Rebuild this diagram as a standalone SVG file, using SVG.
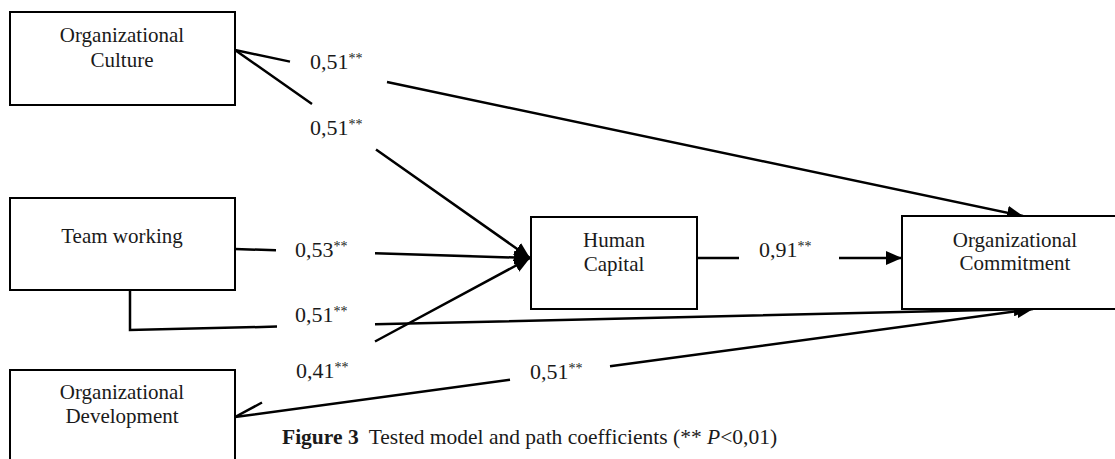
<svg xmlns="http://www.w3.org/2000/svg" width="1115" height="459" viewBox="0 0 1115 459">
<style>
.box{fill:#fff;stroke:#000;stroke-width:2}
.t{font-family:"Liberation Serif","Times New Roman",serif;font-size:21px;fill:#1a1a1a;text-anchor:middle}
.lbl{font-family:"Liberation Serif","Times New Roman",serif;font-size:22px;fill:#1a1a1a}
.sup{font-size:14px}
.c{fill:none;stroke:#000;stroke-width:2.5;marker-end:url(#ah)}
.cap{font-family:"Liberation Serif","Times New Roman",serif;font-size:21.5px;fill:#1a1a1a}
</style>
<defs>
<marker id="ah" viewBox="0 0 16 14" refX="16" refY="7" markerWidth="16" markerHeight="14" markerUnits="userSpaceOnUse" orient="auto">
<path d="M0,0 L16,7 L0,14 z" fill="#000"/>
</marker>
</defs>
<rect width="1115" height="459" fill="#fff"/>
<g id="connectors">
<path class="c" d="M235,50 L290,61.6 M387,82 L1023,216"/>
<path class="c" d="M235,50 L312,104 M376,149.4 L530,258"/>
<path class="c" d="M235,249 L276,250.3 M375,253.3 L530,258"/>
<path class="c" d="M235,417 L262,402.5 M375,341.5 L530,258"/>
<path class="c" d="M130,290 L130,330 L277,326.6 M375,324.3 L1030,309"/>
<path class="c" d="M235,417 L510,379.8 M610,366.3 L1033,309"/>
<path class="c" d="M697,258 L739,258 M839,258 L902,258"/>
</g>
<g id="labels">
<text class="lbl" x="310" y="69">0,51<tspan class="sup" dy="-6">**</tspan></text>
<text class="lbl" x="310" y="135">0,51<tspan class="sup" dy="-6">**</tspan></text>
<text class="lbl" x="295" y="257">0,53<tspan class="sup" dy="-6">**</tspan></text>
<text class="lbl" x="295" y="322">0,51<tspan class="sup" dy="-6">**</tspan></text>
<text class="lbl" x="296" y="378">0,41<tspan class="sup" dy="-6">**</tspan></text>
<text class="lbl" x="530" y="379">0,51<tspan class="sup" dy="-6">**</tspan></text>
<text class="lbl" x="759" y="257">0,91<tspan class="sup" dy="-6">**</tspan></text>
</g>
<g id="node-culture">
<rect class="box" x="10" y="12" width="225" height="93"/>
<text class="t" x="122" y="42">Organizational</text>
<text class="t" x="122" y="67">Culture</text>
</g>
<g id="node-team">
<rect class="box" x="10" y="198" width="225" height="92"/>
<text class="t" x="122" y="243">Team working</text>
</g>
<g id="node-development">
<rect class="box" x="10" y="370" width="225" height="100"/>
<text class="t" x="122" y="399">Organizational</text>
<text class="t" x="122" y="423">Development</text>
</g>
<g id="node-human">
<rect class="box" x="531" y="217" width="166" height="92"/>
<text class="t" x="614" y="247">Human</text>
<text class="t" x="614" y="271">Capital</text>
</g>
<g id="node-commitment">
<rect class="box" x="902" y="216" width="225" height="93"/>
<text class="t" x="1015" y="247">Organizational</text>
<text class="t" x="1015" y="270">Commitment</text>
</g>
<g id="caption">
<text class="cap" x="282" y="444"><tspan font-weight="bold">Figure 3</tspan><tspan dx="10">Tested model and path coefficients (** </tspan><tspan font-style="italic">P</tspan>&lt;0,01)</text>
</g>
</svg>
